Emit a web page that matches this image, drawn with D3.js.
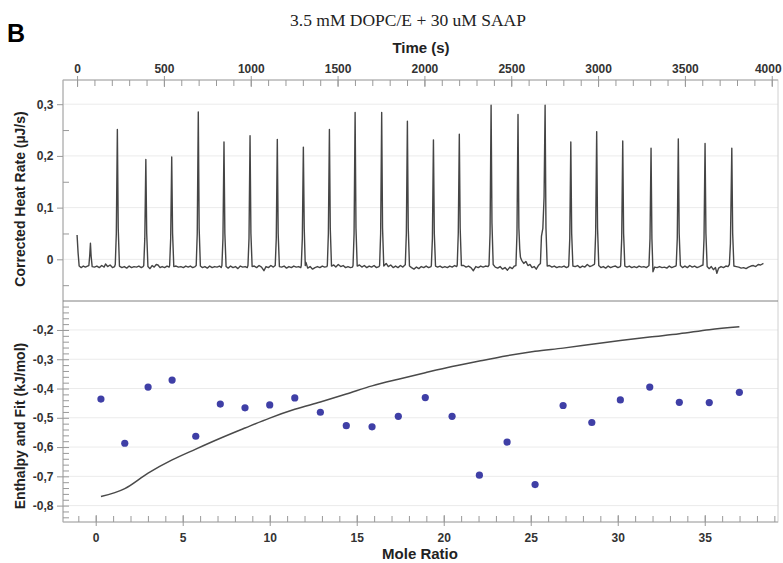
<!doctype html>
<html lang="en">
<head>
<meta charset="utf-8">
<script src="https://cdn.jsdelivr.net/npm/d3@7"></script>
<style>
  body { margin: 0; background: #fff; }
  svg { display: block; font-family: "Liberation Sans", Arial, sans-serif; }
  .tick text { font-size: 12px; font-weight: bold; fill: #333; }
  .tick line { stroke: #999; }
  .title { font-family: "Liberation Serif", "Times New Roman", serif; font-size: 17.5px; fill: #222; }
  .axlabel { font-size: 14px; font-weight: bold; fill: #222; }
</style>
</head>
<body>
<div id="chart"></div>
<script>
// ---- data ----
var timeTicks = [0, 500, 1000, 1500, 2000, 2500, 3000, 3500, 4000];
var heatTicks = [0, 0.1, 0.2, 0.3];
var ratioTicks = [0, 5, 10, 15, 20, 25, 30, 35];
var enthTicks = [-0.8, -0.7, -0.6, -0.5, -0.4, -0.3, -0.2];

// thermogram: [time (s), corrected heat rate (uJ/s)]
var heatTrace = [
  [0,0.047],[6,0.012],[12,-0.013],[24,-0.016],[36,-0.013],[48,-0.015],[60,-0.013],
  [68,-0.012],[73,0.008],[77,0.031],[81,0.006],[87,-0.014],
  [100,-0.015],[114,-0.013],[128,-0.016],[142,-0.012],[156,-0.015],[164,-0.009],[176,-0.014],[190,-0.011],[204,-0.016],[216,-0.014],
  [220,-0.010],[226,0.05],[232,0.251],[237,0.06],[244,-0.013],
  [258,-0.016],[272,-0.014],[286,-0.017],[300,-0.013],[314,-0.016],[328,-0.014],[342,-0.015],[356,-0.013],[370,-0.016],[380,-0.014],
  [384,-0.012],[390,0.04],[396,0.193],[401,0.05],[408,-0.014],
  [420,-0.018],[432,-0.012],[444,-0.015],[456,-0.010],[466,-0.011],[478,-0.016],[490,-0.014],[504,-0.016],[518,-0.013],[530,-0.015],
  [533,-0.012],[539,0.04],[545,0.198],[550,0.05],[557,-0.014],
  [570,-0.013],[584,-0.015],[598,-0.014],[612,-0.016],[626,-0.013],[640,-0.015],[652,-0.013],[666,-0.016],[680,-0.014],
  [686,-0.012],[692,0.05],[698,0.285],[703,0.06],[710,-0.013],
  [722,-0.016],[736,-0.014],[750,-0.017],[764,-0.013],[778,-0.016],[792,-0.014],[806,-0.015],[820,-0.013],[830,-0.016],
  [834,-0.012],[840,0.04],[846,0.227],[851,0.05],[858,-0.014],
  [870,-0.017],[884,-0.013],[898,-0.016],[912,-0.014],[926,-0.018],[940,-0.013],[954,-0.015],[968,-0.014],[980,-0.016],
  [984,-0.012],[990,0.04],[996,0.239],[1001,0.05],[1008,-0.014],
  [1020,-0.013],[1034,-0.016],[1048,-0.012],[1062,-0.015],[1076,-0.022],[1088,-0.014],[1102,-0.016],[1116,-0.012],[1130,-0.015],
  [1141,-0.012],[1147,0.04],[1153,0.232],[1158,0.05],[1165,-0.014],
  [1178,-0.015],[1192,-0.013],[1206,-0.017],[1220,-0.014],[1234,-0.016],[1248,-0.013],[1262,-0.015],[1276,-0.014],[1288,-0.016],
  [1291,-0.012],[1297,0.04],[1303,0.217],[1308,0.06],[1314,-0.012],
  [1318,-0.006],[1328,-0.017],[1342,-0.014],[1356,-0.019],[1370,-0.016],[1384,-0.014],[1398,-0.016],[1412,-0.013],[1426,-0.015],[1438,-0.014],
  [1441,-0.012],[1447,0.05],[1453,0.251],[1458,0.06],[1465,-0.013],
  [1478,-0.011],[1490,-0.015],[1504,-0.010],[1518,-0.014],[1532,-0.012],[1546,-0.016],[1560,-0.014],[1574,-0.016],[1586,-0.015],
  [1589,-0.012],[1595,0.05],[1601,0.284],[1606,0.06],[1613,-0.013],
  [1626,-0.011],[1640,-0.015],[1654,-0.012],[1668,-0.016],[1682,-0.013],[1696,-0.015],[1710,-0.012],[1724,-0.016],[1738,-0.014],
  [1742,-0.012],[1748,0.05],[1754,0.284],[1759,0.06],[1766,-0.013],
  [1780,-0.008],[1792,-0.014],[1806,-0.011],[1820,-0.016],[1834,-0.013],[1848,-0.016],[1862,-0.012],[1876,-0.015],[1888,-0.011],
  [1890,-0.010],[1896,0.05],[1902,0.267],[1907,0.06],[1914,-0.013],
  [1926,-0.016],[1940,-0.019],[1954,-0.015],[1968,-0.018],[1982,-0.014],[1996,-0.016],[2010,-0.013],[2024,-0.016],[2038,-0.014],
  [2040,-0.012],[2046,0.04],[2052,0.231],[2057,0.05],[2064,-0.013],
  [2076,-0.015],[2090,-0.013],[2104,-0.016],[2118,-0.014],[2132,-0.016],[2146,-0.013],[2160,-0.015],[2174,-0.012],[2186,-0.014],
  [2189,-0.011],[2195,0.05],[2201,0.242],[2206,0.06],[2213,-0.012],
  [2226,-0.012],[2240,-0.015],[2254,-0.013],[2268,-0.016],[2282,-0.022],[2296,-0.014],[2310,-0.016],[2324,-0.013],[2338,-0.015],[2352,-0.013],[2366,-0.014],
  [2372,-0.011],[2378,0.05],[2384,0.298],[2389,0.07],[2396,-0.010],
  [2408,-0.015],[2422,-0.017],[2436,-0.014],[2450,-0.019],[2464,-0.016],[2478,-0.021],[2492,-0.015],[2506,-0.018],[2518,-0.013],
  [2527,-0.012],[2533,0.05],[2539,0.280],[2544,0.06],[2549,0.02],
  [2553,0.004],[2560,-0.002],[2572,-0.008],[2584,-0.004],[2596,-0.012],[2608,-0.010],[2620,-0.016],[2632,-0.014],[2644,-0.019],[2656,-0.012],[2668,-0.008],
  [2674,0.045],[2682,0.06],[2689,0.12],[2695,0.298],[2700,0.06],[2707,-0.013],
  [2720,-0.012],[2734,-0.015],[2748,-0.013],[2762,-0.016],[2776,-0.014],[2790,-0.015],[2804,-0.013],[2818,-0.016],[2829,-0.014],
  [2831,-0.012],[2837,0.04],[2843,0.227],[2848,0.05],[2855,-0.013],
  [2868,-0.014],[2882,-0.012],[2896,-0.016],[2910,-0.013],[2924,-0.015],[2938,-0.010],[2952,-0.014],[2966,-0.012],[2978,-0.010],
  [2980,-0.008],[2986,0.05],[2992,0.247],[2997,0.06],[3004,-0.012],
  [3016,-0.016],[3030,-0.014],[3044,-0.017],[3058,-0.013],[3072,-0.016],[3086,-0.014],[3100,-0.013],[3114,-0.016],[3128,-0.014],
  [3130,-0.012],[3136,0.04],[3142,0.229],[3147,0.05],[3154,-0.013],
  [3166,-0.015],[3180,-0.013],[3194,-0.016],[3208,-0.014],[3222,-0.016],[3236,-0.013],[3250,-0.015],[3264,-0.014],[3278,-0.016],[3290,-0.013],
  [3293,-0.012],[3299,0.04],[3305,0.215],[3310,0.04],[3316,-0.024],
  [3326,-0.015],[3340,-0.016],[3354,-0.014],[3368,-0.016],[3382,-0.015],[3396,-0.017],[3410,-0.013],[3424,-0.016],[3438,-0.014],[3448,-0.013],
  [3450,-0.011],[3456,0.04],[3462,0.233],[3467,0.05],[3474,-0.012],
  [3486,-0.016],[3500,-0.013],[3514,-0.016],[3528,-0.012],[3542,-0.015],[3556,-0.013],[3570,-0.016],[3584,-0.014],[3596,-0.012],
  [3604,-0.011],[3610,0.04],[3616,0.224],[3621,0.05],[3628,-0.014],
  [3640,-0.018],[3652,-0.014],[3664,-0.020],[3676,-0.016],[3684,-0.027],[3694,-0.017],[3708,-0.014],[3722,-0.016],[3736,-0.013],[3748,-0.014],
  [3756,-0.010],[3762,0.03],[3770,0.215],[3775,0.05],[3782,-0.013],
  [3796,-0.014],[3810,-0.015],[3824,-0.017],[3838,-0.016],[3852,-0.018],[3866,-0.015],[3880,-0.013],[3894,-0.012],[3908,-0.014],[3922,-0.010],[3936,-0.011],[3952,-0.008]
];

// integrated heats (points) and fit curve
var moleRatio = [0.30, 1.67, 3.01, 4.39, 5.75, 7.16, 8.58, 10.00, 11.44, 12.91, 14.40, 15.88, 17.39,
                 18.94, 20.48, 22.05, 23.64, 25.25, 26.86, 28.51, 30.15, 31.84, 33.54, 35.26, 36.99];
var enthalpy = [-0.436, -0.587, -0.395, -0.371, -0.563, -0.453, -0.466, -0.456, -0.432, -0.481, -0.527, -0.531, -0.495,
                -0.431, -0.495, -0.696, -0.583, -0.728, -0.458, -0.516, -0.439, -0.395, -0.447, -0.448, -0.413];
var fitValues = [-0.769, -0.742, -0.689, -0.644, -0.607, -0.570, -0.535, -0.501, -0.471, -0.446, -0.419, -0.391, -0.368,
                 -0.346, -0.325, -0.306, -0.288, -0.273, -0.262, -0.249, -0.236, -0.224, -0.213, -0.199, -0.189];

// ---- layout ----
var W = 783, H = 563;
var L = 63, R = 778, T = 80, MID = 301, B = 522;

var svg = d3.select("#chart").append("svg")
    .attr("width", W)
    .attr("height", H);

var xTime = d3.scaleLinear().domain([-81, 4036]).range([L, R]);
var yHeat = d3.scaleLinear().domain([-0.0806, 0.3468]).range([MID, T]);
var xRatio = d3.scaleLinear().domain([-1.88, 39.21]).range([L, R]);
var yEnth = d3.scaleLinear().domain([-0.856, -0.101]).range([B, MID]);

var fmtComma = function(d) {
    if (d === 0) return "0";
    return (d < 0 ? "-" : "") + Math.abs(d).toFixed(1).replace(".", ",");
};

function step(a, b, s) {
    var out = [];
    for (var v = a; v <= b + 1e-9; v += s) out.push(Math.round(v * 1000) / 1000);
    return out;
}

// gridlines
svg.append("g")
    .selectAll("line")
    .data(heatTicks)
    .join("line")
    .attr("x1", L).attr("x2", R)
    .attr("y1", d => yHeat(d)).attr("y2", d => yHeat(d))
    .attr("stroke", "#ebebeb");
svg.append("g")
    .selectAll("line")
    .data(enthTicks)
    .join("line")
    .attr("x1", L).attr("x2", R)
    .attr("y1", d => yEnth(d)).attr("y2", d => yEnth(d))
    .attr("stroke", "#ebebeb");

// frame
svg.append("rect")
    .attr("x", L).attr("y", T)
    .attr("width", R - L).attr("height", B - T)
    .attr("fill", "none")
    .attr("stroke", "#d0d0d0");
svg.append("line").attr("x1", L).attr("x2", L).attr("y1", T).attr("y2", B).attr("stroke", "#aaa");
svg.append("line").attr("x1", L).attr("x2", R).attr("y1", T).attr("y2", T).attr("stroke", "#aaa");
svg.append("line").attr("x1", L).attr("x2", R).attr("y1", B).attr("y2", B).attr("stroke", "#aaa");
svg.append("line").attr("x1", L).attr("x2", R).attr("y1", MID).attr("y2", MID).attr("stroke", "#808080");

// top time axis
svg.append("g")
    .attr("transform", "translate(0," + T + ")")
    .call(d3.axisTop(xTime).tickValues(step(0, 4000, 100)).tickSize(-6).tickFormat(""))
    .call(g => g.select(".domain").remove());
svg.append("g")
    .attr("transform", "translate(0," + T + ")")
    .call(d3.axisTop(xTime).tickValues(timeTicks).tickSize(-7).tickPadding(7.5).tickFormat(d3.format("d")))
    .call(g => g.select(".domain").remove())
    .call(g => g.selectAll(".tick line").attr("y1", -4))
    .call(g => g.selectAll(".tick text").filter(d => d === 4000).attr("dx", -4));

// left axis, heat rate
svg.append("g")
    .attr("transform", "translate(" + L + ",0)")
    .call(d3.axisLeft(yHeat).tickValues([-0.05, 0.05, 0.15, 0.25]).tickSize(-6).tickFormat(""))
    .call(g => g.select(".domain").remove());
svg.append("g")
    .attr("transform", "translate(" + L + ",0)")
    .call(d3.axisLeft(yHeat).tickValues(heatTicks).tickSize(6).tickPadding(3.5).tickFormat(fmtComma))
    .call(g => g.select(".domain").remove());

// left axis, enthalpy
svg.append("g")
    .attr("transform", "translate(" + L + ",0)")
    .call(d3.axisLeft(yEnth).tickValues(step(-0.84, -0.12, 0.02)).tickSize(-6).tickFormat(""))
    .call(g => g.select(".domain").remove());
svg.append("g")
    .attr("transform", "translate(" + L + ",0)")
    .call(d3.axisLeft(yEnth).tickValues(enthTicks).tickSize(6).tickPadding(3.5).tickFormat(fmtComma))
    .call(g => g.select(".domain").remove());

// bottom mole ratio axis
svg.append("g")
    .attr("transform", "translate(0," + B + ")")
    .call(d3.axisBottom(xRatio).tickValues(step(-1, 39, 1)).tickSize(-6).tickFormat(""))
    .call(g => g.select(".domain").remove());
svg.append("g")
    .attr("transform", "translate(0," + B + ")")
    .call(d3.axisBottom(xRatio).tickValues(ratioTicks).tickSize(4).tickPadding(7.5).tickFormat(d3.format("d")))
    .call(g => g.select(".domain").remove())
    .call(g => g.selectAll(".tick line").attr("y1", -7));

// thermogram
svg.append("clipPath").attr("id", "topclip")
    .append("rect").attr("x", L).attr("y", T).attr("width", R - L).attr("height", MID - T);
svg.append("path")
    .datum(heatTrace)
    .attr("clip-path", "url(#topclip)")
    .attr("fill", "none")
    .attr("stroke", "#454545")
    .attr("stroke-width", 1.4)
    .attr("stroke-linejoin", "round")
    .attr("d", d3.line()
        .x(d => xTime(d[0]))
        .y(d => yHeat(d[1])));

// fit line
svg.append("path")
    .datum(moleRatio.map((m, i) => [m, fitValues[i]]))
    .attr("fill", "none")
    .attr("stroke", "#4a4a4a")
    .attr("stroke-width", 1.5)
    .attr("d", d3.line()
        .x(d => xRatio(d[0]))
        .y(d => yEnth(d[1]))
        .curve(d3.curveMonotoneX));

// integrated heats
svg.append("g")
    .attr("fill", "#3f3fa6")
    .selectAll("circle")
    .data(moleRatio.map((m, i) => [m, enthalpy[i]]))
    .join("circle")
    .attr("cx", d => xRatio(d[0]))
    .attr("cy", d => yEnth(d[1]))
    .attr("r", 3.6);

// texts
svg.append("text")
    .attr("x", 7).attr("y", 42)
    .attr("font-size", 25).attr("font-weight", "bold")
    .text("B");
svg.append("text")
    .attr("class", "title")
    .attr("x", 408).attr("y", 26)
    .attr("text-anchor", "middle")
    .text("3.5 mM DOPC/E + 30 uM SAAP");
svg.append("text")
    .attr("class", "axlabel")
    .attr("x", 421).attr("y", 53)
    .attr("text-anchor", "middle")
    .style("font-size", "15px")
    .text("Time (s)");
svg.append("text")
    .attr("class", "axlabel")
    .attr("x", 420).attr("y", 559)
    .attr("text-anchor", "middle")
    .style("font-size", "15px")
    .text("Mole Ratio");
svg.append("text")
    .attr("class", "axlabel")
    .attr("transform", "translate(25,199) rotate(-90)")
    .attr("text-anchor", "middle")
    .text("Corrected Heat Rate (µJ/s)");
svg.append("text")
    .attr("class", "axlabel")
    .attr("transform", "translate(25,426) rotate(-90)")
    .attr("text-anchor", "middle")
    .text("Enthalpy and Fit (kJ/mol)");
</script>
</body>
</html>
